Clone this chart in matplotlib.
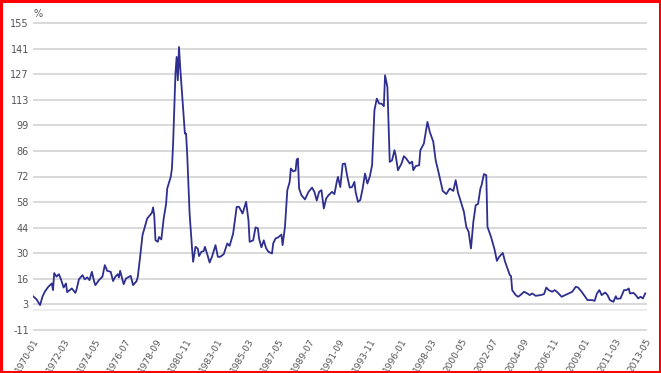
import numpy as np
import matplotlib.pyplot as plt
from matplotlib.patches import Rectangle

# months since 1970-01 and the value (%)
months = [0, 3, 6, 8, 10, 13, 16, 17, 18, 20, 22, 24, 26, 28, 29, 33, 36, 37, 39, 42,
          44, 46, 48, 50, 52, 53, 56, 59, 61, 63, 66, 68, 70, 72, 73, 74, 77, 79, 83, 85,
          88, 89, 91, 93, 95, 97, 101, 102, 103, 104, 106, 107, 109, 111, 113, 114, 117, 118, 119, 121,
          122, 123, 124, 125, 127, 129, 130, 131, 133, 135, 136, 138, 140, 141, 143, 145, 146, 148, 150, 152,
          155, 157, 159, 162, 165, 167, 170, 173, 175, 178, 181, 183, 184, 187, 189, 191, 192, 194, 196, 198,
          200, 203, 204, 206, 208, 211, 212, 214, 216, 218, 219, 221, 223, 224, 225, 226, 228, 231, 234, 237,
          239, 241, 243, 245, 247, 249, 251, 254, 256, 258, 259, 261, 263, 265, 267, 269, 271, 273, 274, 276,
          278, 280, 282, 284, 286, 288, 290, 292, 294, 296, 298, 299, 301, 303, 305, 307, 308, 310, 313, 315,
          317, 320, 322, 323, 325, 328, 329, 332, 335, 337, 340, 342, 345, 348, 351, 354, 357, 359, 361, 363,
          366, 368, 370, 372, 374, 376, 378, 380, 381, 383, 385, 386, 389, 392, 394, 396, 399, 401, 403, 405,
          406, 407, 410, 412, 414, 417, 419, 422, 424, 427, 431, 434, 436, 438, 441, 443, 445, 449, 452, 455,
          458, 461, 463, 466, 468, 471, 475, 477, 479, 481, 483, 486, 488, 490, 493, 495, 496, 499, 502, 504,
          506, 507, 510, 512, 514, 516, 518, 520]
values = [7.3, 5.6, 2.5, 7.0, 9.7, 12.4, 14.2, 10.6, 19.8, 17.9, 19.2, 16.0, 12.0, 14.2, 9.5, 11.5, 9.1, 11.0, 16.4, 18.7,
          16.4, 17.5, 16.0, 20.5, 15.1, 13.3, 16.0, 17.9, 24.1, 21.0, 20.5, 15.5, 17.9, 19.2, 17.5, 21.0, 13.8, 16.9, 18.3, 13.3,
          15.5, 17.8, 28.6, 40.3, 44.8, 49.3, 52.4, 55.3, 50.7, 37.6, 36.7, 39.3, 38.0, 49.3, 57.0, 65.5, 71.8, 76.3, 89.8, 127.7,
          136.6, 124.0, 142.0, 131.2, 113.2, 95.2, 95.2, 83.5, 52.0, 34.0, 25.9, 34.0, 33.0, 29.0, 31.3, 31.7, 34.0, 30.0, 25.5, 28.6,
          34.9, 28.6, 28.6, 30.0, 35.8, 34.5, 41.2, 55.6, 55.6, 52.0, 58.3, 48.4, 36.7, 37.5, 44.5, 44.0, 38.5, 33.7, 37.5, 33.2,
          31.3, 30.4, 35.8, 38.5, 39.0, 40.6, 34.9, 44.8, 64.6, 69.1, 76.3, 74.8, 75.2, 81.2, 81.7, 65.5, 61.9, 59.6, 63.7, 66.0,
          63.7, 59.0, 63.7, 64.6, 54.7, 60.1, 61.9, 63.7, 62.5, 69.1, 71.8, 66.3, 78.7, 79.0, 71.8, 66.0, 66.3, 69.1, 63.7, 58.3,
          59.3, 65.5, 73.6, 68.2, 71.8, 78.1, 107.8, 114.1, 111.4, 111.4, 110.0, 126.7, 120.4, 79.9, 80.8, 86.2, 83.5, 75.4, 79.0, 83.0,
          81.7, 79.0, 80.0, 75.4, 77.6, 78.1, 86.2, 89.8, 101.5, 96.1, 90.7, 80.8, 72.7, 64.2, 62.5, 65.5, 64.2, 70.0, 63.2, 59.2,
          52.9, 44.8, 42.1, 33.1, 47.5, 56.5, 57.1, 65.5, 67.3, 73.3, 72.7, 44.8, 39.4, 32.6, 26.4, 28.6, 30.7, 25.9, 22.3, 18.7,
          18.2, 10.6, 7.9, 7.0, 7.9, 9.7, 9.1, 7.9, 8.8, 7.5, 7.9, 8.4, 12.0, 10.6, 9.7, 10.6, 9.7, 7.0, 7.9, 8.8,
          9.7, 12.4, 12.0, 9.7, 7.9, 5.2, 5.2, 4.8, 8.8, 10.6, 7.9, 9.3, 7.9, 5.2, 4.3, 7.3, 5.9, 6.1, 10.6, 10.6,
          11.5, 8.8, 9.1, 7.9, 6.1, 7.0, 6.1, 8.8]

x_labels = ['1970-01', '1972-03', '1974-05', '1976-07', '1978-09', '1980-11', '1983-01',
            '1985-03', '1987-05', '1989-07', '1991-09', '1993-11', '1996-01', '1998-03',
            '2000-05', '2002-07', '2004-09', '2006-11', '2009-01', '2011-03', '2013-05']
y_labels = ['-11', '3', '16', '30', '44', '58', '72', '86', '99', '113', '127', '141', '155']

fig = plt.figure(figsize=(6.61, 3.73), dpi=100)
ax = fig.add_axes([33 / 661, 1 - 331 / 373, 614 / 661, 309 / 373])

ax.plot(months, values, color='#2e2f8f', linewidth=1.3, zorder=3)

y_pos = np.linspace(-11, 155, len(y_labels))
ax.set_yticks(y_pos)
ax.set_yticklabels(y_labels)
ax.set_xticks(np.arange(len(x_labels)) * 26)
ax.set_xticklabels(x_labels, rotation=60, ha='right', rotation_mode='anchor')

ax.set_xlim(0, 521.5)
ax.set_ylim(-11.5, 155.5)
ax.grid(axis='y', color='#d9d9d9', linewidth=1.4)
ax.axhline(0, color='#eeeeee', linewidth=1.4, zorder=1)
ax.set_axisbelow(True)
for s in ax.spines.values():
    s.set_visible(False)
ax.tick_params(length=0, labelsize=7, colors='#555555', pad=3)
ax.tick_params(axis='x', labelsize=6.5, pad=4)

fig.text(33 / 661, 1 - 14 / 373, '%', fontsize=7, color='#555555', va='center', ha='left')

fig.patches.append(Rectangle((0.0015, 0.003), 0.997, 0.994, transform=fig.transFigure,
                             fill=False, edgecolor='#ff0000', linewidth=2.2))

fig.savefig('out.png', dpi=100)
